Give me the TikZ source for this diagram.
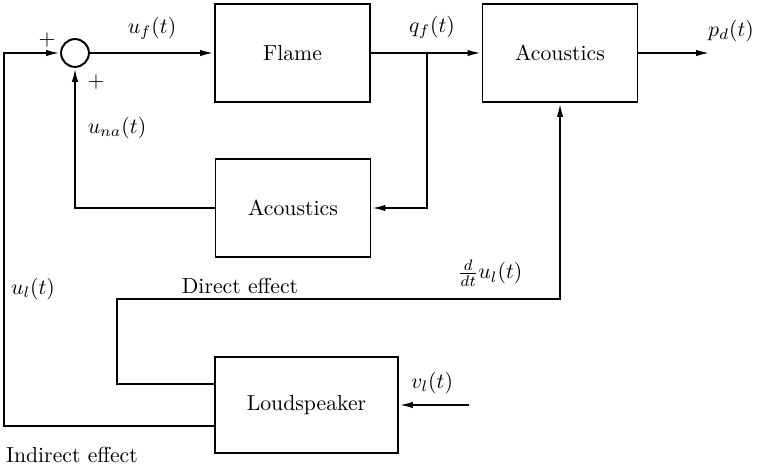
\documentclass[tikz,border=0pt]{standalone}
\usepackage{amsmath}
\usepackage{amssymb}
\usepackage{tikz}
\usetikzlibrary{arrows.meta}
\usetikzlibrary{calc}

\tikzset{
    block/.style={draw, line width=0.9pt, minimum width=71.3pt, minimum height=45.1pt, inner sep=0pt},
    sumnode/.style={draw, circle, line width=0.9pt, minimum size=12.8pt, inner sep=0pt},
    sig/.style={line width=0.9pt, -{Latex[length=6.4pt,width=2.9pt]}},
    wire/.style={line width=0.9pt}
}

\begin{document}
\begin{tikzpicture}[x=0.46pt, y=-0.46pt]
    \useasboundingbox (0,0) rectangle (757,467);

    \node[sumnode] (sum) at (75,53) {};
    \node[block] (flame) at (292.5,53) {Flame};
    \node[block] (acup) at (560,53) {Acoustics};
    \node[block] (aclow) at (293,208) {Acoustics};
    \node[block, minimum width=84.2pt, minimum height=44.2pt] (spk) at (306.5,405) {Loudspeaker};

    \coordinate (br) at (427,53);
    \coordinate (out) at (710,53);
    \coordinate (dir) at (117,299);
    \coordinate (ind) at (4,53);
    \coordinate (vin) at (469,405);

    \draw[sig] (sum) -- (flame);
    \draw[sig] (flame) -- (acup);
    \draw[sig] (br) |- (aclow.east);
    \draw[sig] (aclow.west) -| (sum.south);
    \draw[sig] (acup) -- (out);
    \draw[sig] ([yshift=9.7pt]spk.west) -| (dir) -| (acup.south);
    \draw[sig] ([yshift=-9.7pt]spk.west) -| (ind) -- (sum.west);
    \draw[sig] (vin) -- (spk.east);

    \node at (152,28) {$u_f(t)$};
    \node at (432,27) {$q_f(t)$};
    \node at (731,31) {$p_d(t)$};
    \node at (117,128) {$u_{na}(t)$};
    \node at (47,40) {$+$};
    \node at (96,82) {$+$};
    \node at (33,289) {$u_l(t)$};
    \node at (240,286) {Direct effect};
    \node at (490,273) {$\frac{d}{dt}u_l(t)$};
    \node at (432,383) {$v_l(t)$};
    \node at (72,455) {Indirect effect};
\end{tikzpicture}
\end{document}
